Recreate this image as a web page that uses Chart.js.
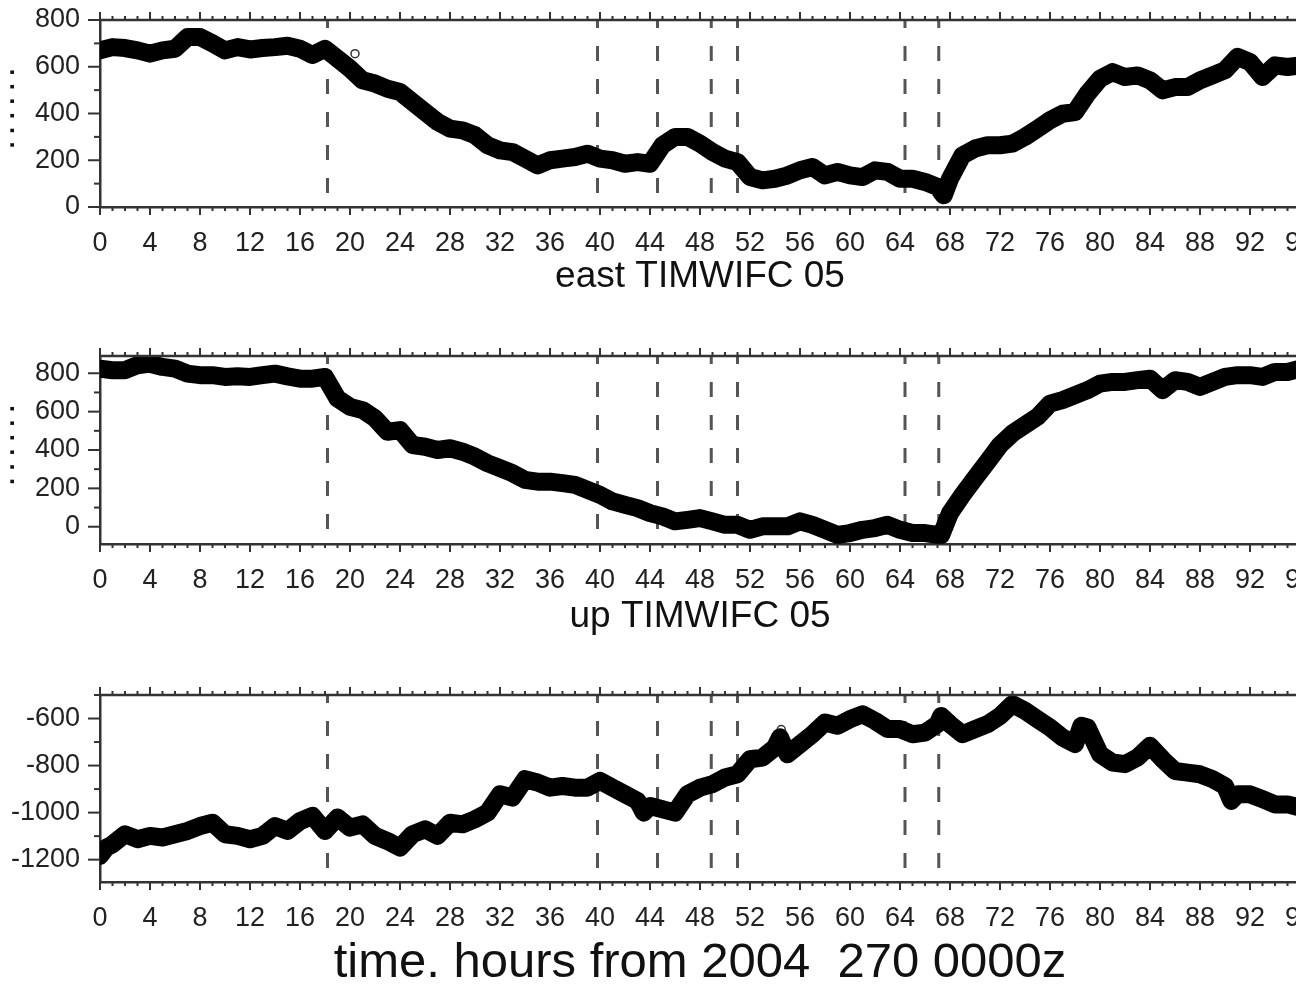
<!DOCTYPE html>
<html>
<head>
<meta charset="utf-8">
<script src="https://cdn.jsdelivr.net/npm/chart.js@4.4.1/dist/chart.umd.min.js"></script>
<style>
  html, body { margin: 0; padding: 0; background: #fff; overflow: hidden; width: 1296px; height: 984px; }
  canvas { position: absolute; left: 0; }
</style>
</head>
<body>
<canvas id="east" width="1320" height="307" style="top:0px"></canvas>
<canvas id="up" width="1320" height="304" style="top:340px"></canvas>
<canvas id="north" width="1320" height="314" style="top:680px"></canvas>
<script>
// hours since 2004 day 270 0000z
const hourTicks = [0, 4, 8, 12, 16, 20, 24, 28, 32, 36, 40, 44, 48, 52, 56, 60, 64, 68, 72, 76, 80, 84, 88, 92, 96];
const eventHours = [18.2, 39.8, 44.6, 48.9, 51.0, 64.4, 67.1];

const eastHours = [0, 1, 2, 3, 4, 5, 6, 7, 8, 9, 10, 11, 12, 13, 14, 15, 16, 17, 18, 19, 20, 21, 22, 23, 24,
  25, 26, 27, 28, 29, 30, 31, 32, 33, 34, 35, 36, 37, 38, 39, 40, 41, 42, 43, 44, 45, 46, 47, 48,
  49, 50, 51, 52, 53, 54, 55, 56, 57, 58, 59, 60, 61, 62, 63, 64, 65, 66, 67, 67.5, 68, 69, 70, 71, 72,
  73, 74, 75, 76, 77, 78, 79, 80, 81, 82, 83, 84, 85, 86, 87, 88, 89, 90, 91, 92, 93, 94, 95, 96];
const east = [670, 684, 680, 670, 656, 670, 677, 727, 727, 700, 670, 684, 674, 680, 684, 690, 677, 650, 677, 635, 592,
  542, 528, 506, 492, 449, 406, 364, 335, 328, 307, 264, 242, 235, 207, 178, 200, 207, 214, 228, 207,
  200, 185, 192, 185, 264, 300, 300, 271, 235, 207, 192, 128, 114, 121, 135, 157, 171, 135, 150, 135,
  128, 157, 150, 121, 121, 107, 86, 50, 121, 221, 250, 264, 264, 271, 300, 335, 371, 399, 406, 485,
  549, 577, 556, 563, 542, 499, 513, 513, 542, 563, 585, 642, 620, 556, 606, 599, 606];

const upHours = [0, 1, 2, 3, 4, 5, 6, 7, 8, 9, 10, 11, 12, 13, 14, 15, 16, 17, 18, 19, 20, 21, 22, 23, 24,
  25, 26, 27, 28, 29, 30, 31, 32, 33, 34, 35, 36, 37, 38, 39, 40, 41, 42, 43, 44, 45, 46, 47, 48,
  49, 50, 51, 52, 53, 54, 55, 56, 57, 58, 59, 60, 61, 62, 63, 64, 65, 66, 67, 67.3, 68, 69, 70, 71, 72,
  73, 74, 75, 76, 77, 78, 79, 80, 81, 82, 83, 84, 85, 86, 87, 88, 89, 90, 91, 92, 93, 94, 95, 96];
const up = [824, 816, 816, 842, 850, 833, 824, 798, 790, 790, 781, 784, 781, 790, 798, 784, 772, 772, 781, 668, 625,
  608, 565, 495, 504, 426, 417, 400, 409, 391, 365, 331, 305, 279, 244, 235, 235, 227, 218, 192, 166,
  132, 114, 97, 71, 54, 28, 36, 45, 28, 10, 10, -16, 2, 2, 2, 28, 10, -16, -42, -33,
  -16, -7, 10, -16, -33, -33, -42, -42, 71, 166, 253, 339, 426, 487, 530, 573, 642, 660, 686, 712,
  746, 755, 755, 764, 772, 712, 764, 755, 729, 755, 781, 790, 790, 781, 807, 807, 824];

const northHours = [0, 0.5, 1, 2, 3, 4, 5, 6, 7, 8, 9, 10, 11, 12, 13, 14, 15, 16, 17, 18, 19, 20, 21, 22, 23, 24,
  25, 26, 27, 28, 29, 30, 31, 32, 33, 34, 35, 36, 37, 38, 39, 40, 41, 42, 43, 43.5, 44, 45, 46, 47, 48,
  49, 50, 51, 52, 53, 54, 54.4, 55, 56, 57, 58, 59, 60, 61, 62, 63, 64, 65, 66, 67, 67.3, 68, 69, 70, 71, 72,
  73, 74, 75, 76, 77, 78, 78.5, 79, 80, 81, 82, 83, 84, 85, 86, 87, 88, 89, 90, 90.5, 91, 92, 93, 94, 95, 96];
const north = [-1184, -1149, -1135, -1092, -1113, -1099, -1106, -1092, -1078, -1057, -1043, -1092, -1099, -1113,
  -1099, -1057, -1078, -1036, -1014, -1078, -1021, -1064, -1050, -1099, -1121, -1149,
  -1092, -1071, -1099, -1043, -1050, -1028, -1000, -922, -936, -858, -872, -894, -887, -894, -894, -865,
  -894, -922, -950, -1000, -972, -986, -1000, -922, -894, -879, -851, -837, -773, -766, -723, -680, -752,
  -709, -667, -617, -631, -603, -582, -610, -645, -645, -667, -660, -624, -589, -624, -667, -645, -624, -589,
  -539, -567, -603, -638, -681, -709, -631, -638, -752, -787, -794, -766, -716, -773, -823, -830, -837,
  -858, -887, -950, -922, -922, -943, -965, -965, -979];

// isolated open-circle samples
const eastMarks = [{x: 20.4, y: 656}];
const northMarks = [{x: 54.5, y: -647}];

const eastTicks = [0, 200, 400, 600, 800];
const upTicks = [0, 200, 400, 600, 800];
const northTicks = [-1200, -1000, -800, -600];

const FONT = 'Liberation Sans';

const frame = {
  id: 'frame',
  beforeDatasetsDraw(chart) {
    const {ctx, chartArea: a, scales: {x}} = chart;
    ctx.save();
    ctx.strokeStyle = '#555';
    ctx.lineWidth = 3;
    ctx.setLineDash([15, 18]);
    ctx.lineDashOffset = 7;
    eventHours.forEach(h => {
      const px = x.getPixelForValue(h);
      ctx.beginPath();
      ctx.moveTo(px, a.top);
      ctx.lineTo(px, a.bottom);
      ctx.stroke();
    });
    ctx.restore();
  },
  afterDraw(chart) {
    const {ctx, chartArea: a, scales: {x, y}} = chart;
    ctx.save();
    ctx.strokeStyle = '#333';
    ctx.lineWidth = 2.5;
    ctx.beginPath();
    ctx.moveTo(a.left - 1, a.top);
    ctx.lineTo(a.right + 20, a.top);
    ctx.stroke();
    ctx.lineWidth = 2;
    for (let h = 0; h <= 96; h++) {
      const px = x.getPixelForValue(h);
      const len = h % 4 === 0 ? 8 : 4;
      ctx.beginPath();
      ctx.moveTo(px, a.top);
      ctx.lineTo(px, a.top - len);
      ctx.moveTo(px, a.bottom);
      ctx.lineTo(px, a.bottom + len);
      ctx.stroke();
    }
    for (let v = Math.ceil(y.min / 100) * 100; v <= y.max; v += 100) {
      const py = y.getPixelForValue(v);
      const len = v % 200 === 0 ? 12 : 6;
      ctx.beginPath();
      ctx.moveTo(a.left, py);
      ctx.lineTo(a.left - len, py);
      ctx.stroke();
    }
    // clipped remains of the y-axis label
    const lab = chart.options.plugins.frame.ylab;
    if (lab) {
      ctx.translate(14, (a.top + a.bottom) / 2 - 5);
      ctx.rotate(-Math.PI / 2);
      ctx.fillStyle = '#111';
      ctx.font = 'bold 20px "DejaVu Sans"';
      ctx.textAlign = 'center';
      ctx.textBaseline = 'alphabetic';
      ctx.fillText(lab, 0, 0);
    }
    ctx.restore();
  }
};

function makePanel(id, hours, values, marks, o) {
  const pts = hours.map((h, i) => ({x: h, y: values[i]}));
  new Chart(document.getElementById(id), {
    type: 'line',
    data: {
      datasets: [
        {data: pts, borderColor: '#000', borderWidth: 18, pointRadius: 0, tension: 0,
         borderJoinStyle: 'round', borderCapStyle: 'round'},
        {data: marks, showLine: false, pointRadius: 4, pointBorderColor: '#333',
         pointBackgroundColor: '#fff', pointBorderWidth: 1.5}
      ]
    },
    options: {
      responsive: false,
      animation: false,
      events: [],
      layout: {padding: {top: o.top, right: 20, left: 0, bottom: 0}},
      plugins: {legend: {display: false}, tooltip: {enabled: false}, frame: {ylab: o.ylab}},
      scales: {
        x: {
          type: 'linear', min: 0, max: 96,
          grid: {display: false, drawTicks: false},
          border: {color: '#333', width: 2.5},
          afterBuildTicks: s => { s.ticks = hourTicks.map(v => ({value: v})); },
          afterFit: s => { s.height = o.xh; s.paddingLeft = 0; s.paddingRight = 0; },
          ticks: {font: {family: FONT, size: 27}, color: '#222', padding: 20,
                  maxRotation: 0, autoSkip: false, callback: v => String(v)},
          title: {display: true, text: o.title, color: '#111',
                  font: {family: FONT, size: o.tsize}, padding: {top: 0, bottom: o.tpad}}
        },
        y: {
          min: o.min, max: o.max,
          grid: {display: false, drawTicks: false},
          border: {color: '#333', width: 2.5},
          afterBuildTicks: s => { s.ticks = o.ticks.map(v => ({value: v})); },
          afterFit: s => { s.width = 100; s.paddingTop = 0; s.paddingBottom = 0; },
          ticks: {font: {family: FONT, size: 27}, color: '#222', padding: 20,
                  callback: v => String(v)}
        }
      }
    },
    plugins: [frame]
  });
}

makePanel('east', eastHours, east, eastMarks,
  {top: 20, xh: 100, min: 0, max: 800, ticks: eastTicks, title: 'east TIMWIFC 05', tsize: 37, tpad: 7.8, ylab: '. . . . . .'});
makePanel('up', upHours, up, [],
  {top: 16, xh: 100, min: -90, max: 890, ticks: upTicks, title: 'up TIMWIFC 05', tsize: 37, tpad: 4.8, ylab: '. . . . . .'});
makePanel('north', northHours, north, northMarks,
  {top: 15, xh: 112, min: -1295, max: -500, ticks: northTicks, title: 'time. hours from 2004  270 0000z', tsize: 49, tpad: 1.6, ylab: ''});
</script>
</body>
</html>
